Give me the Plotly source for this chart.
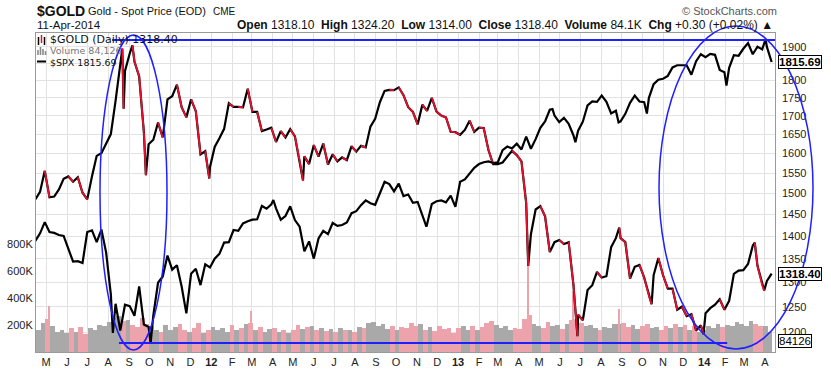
import math
import plotly.graph_objects as go
import pandas as pd

# ---------------- data ----------------
week_dates = pd.date_range("2011-04-15", "2014-04-11", freq="W-FRI")

gold_weekly = [
    # 2011
    1486, 1504, 1556,
    1491, 1493, 1510, 1536,
    1542, 1529, 1540, 1502,
    1486, 1542, 1594, 1601, 1628,
    1651, 1742, 1852, 1828,
    1880, 1856, 1812, 1656, 1624,
    1636, 1682, 1642, 1746,
    1755, 1788, 1724, 1696,
    1746, 1713, 1598, 1606, 1565,
    # 2012
    1617, 1640, 1665, 1735,
    1725, 1725, 1724, 1776,
    1711, 1711, 1659, 1663, 1668,
    1630, 1659, 1642, 1664,
    1645, 1582, 1593, 1573,
    1622, 1592, 1626, 1572, 1598,
    1580, 1590, 1583, 1619,
    1605, 1620, 1616, 1671, 1692,
    1738, 1770, 1773, 1772,
    1780, 1758, 1724, 1711,
    1677, 1731, 1714, 1750, 1712,
    1701, 1696, 1657, 1656,
    # 2013
    1649, 1662, 1687, 1657,
    1668, 1667, 1609, 1573,
    1573, 1577, 1592, 1607, 1596,
    1580, 1477, 1405, 1462,
    1470, 1446, 1365, 1387, 1392,
    1383, 1387, 1296, 1234,
    1223, 1284, 1294, 1322,
    1310, 1313, 1376, 1396, 1396,
    1387, 1308, 1333, 1337,
    1310, 1272, 1315, 1352,
    1315, 1287, 1287, 1244, 1250,
    1231, 1235, 1203, 1213,
    # 2014
    1237, 1247, 1254, 1265, 1244,
    1262, 1318, 1325, 1326,
    1339, 1379, 1335, 1294,
    1303, 1318.40,
]

gold_extra_dates = ["2011-08-22", "2011-08-24", "2011-09-06", "2011-09-26", "2011-12-29",
                    "2012-05-16", "2013-04-15", "2013-06-27", "2013-08-28", "2013-10-15",
                    "2013-12-31", "2014-03-17", "2014-03-31"]
gold_extra = [1895, 1720, 1905, 1545, 1537, 1532, 1335, 1192, 1420, 1255, 1196, 1386, 1283]

spx_weekly = [
    # 2011
    1319, 1337, 1364,
    1340, 1338, 1333, 1331,
    1300, 1271, 1272, 1268,
    1340, 1344, 1316, 1346, 1292,
    1199, 1179, 1124, 1177,
    1174, 1154, 1216, 1136, 1131,
    1155, 1224, 1238, 1285,
    1253, 1263, 1216, 1159,
    1244, 1255, 1219, 1265, 1258,
    # 2012
    1278, 1289, 1315, 1316,
    1345, 1343, 1361, 1366,
    1370, 1371, 1404, 1397, 1408,
    1398, 1370, 1379, 1403,
    1369, 1353, 1295, 1318,
    1278, 1325, 1343, 1335, 1362,
    1355, 1357, 1363, 1386,
    1391, 1406, 1418, 1411, 1407,
    1438, 1466, 1460, 1441,
    1461, 1429, 1433, 1412,
    1414, 1380, 1359, 1409, 1416,
    1418, 1413, 1430, 1402,
    # 2013
    1466, 1472, 1486, 1503,
    1513, 1518, 1520, 1516,
    1518, 1551, 1561, 1556, 1569,
    1553, 1589, 1555, 1582,
    1614, 1633, 1667, 1650, 1631,
    1643, 1626, 1593, 1606,
    1632, 1680, 1692, 1691,
    1710, 1691, 1656, 1664, 1633,
    1655, 1688, 1710, 1692,
    1690, 1703, 1745, 1759,
    1762, 1771, 1798, 1805, 1806,
    1805, 1775, 1818, 1841,
    # 2014
    1831, 1842, 1839, 1790, 1783,
    1797, 1838, 1836, 1859,
    1878, 1841, 1866, 1857,
    1865, 1815.69,
]

spx_extra_dates = ["2011-08-08", "2011-10-03", "2012-04-02", "2012-11-15", "2013-05-21",
                   "2013-06-24", "2013-08-27", "2013-10-08", "2014-02-03", "2014-04-02"]
spx_extra = [1119, 1099, 1419, 1353, 1669, 1573, 1630, 1656, 1741, 1891]

volume_k = [
    # 2011
    185, 160, 215,
    245, 190, 150, 165,
    140, 175, 150, 185,
    135, 180, 165, 200, 190,
    225, 255, 270, 230,
    240, 200, 185, 250, 210,
    195, 165, 150, 200,
    165, 185, 205, 160,
    150, 180, 215, 140, 160,
    # 2012
    185, 160, 175, 150,
    200, 165, 180, 210,
    215, 160, 185, 150, 170,
    180, 150, 165, 140,
    160, 200, 170, 185,
    195, 165, 180, 155, 170,
    145, 175, 160, 165,
    150, 185, 175, 215, 225,
    195, 210, 170, 190,
    165, 185, 175, 215,
    190, 205, 160, 185, 155,
    195, 170, 180, 140,
    # 2013
    175, 195, 165, 190,
    160, 185, 215, 230,
    200, 180, 195, 165, 180,
    170, 245, 275, 210,
    195, 175, 225, 190, 200,
    170, 205, 235, 245,
    215, 190, 200, 175,
    165, 185, 180, 205, 210,
    215, 185, 200, 170,
    190, 210, 175, 185,
    165, 195, 180, 205, 185,
    200, 165, 190, 150,
    # 2014
    165, 195, 180, 205, 185,
    200, 190, 225, 210,
    195, 230, 205, 190,
    195, 150,
]

vol_spike_dates = ["2011-05-05", "2012-02-29", "2013-04-15", "2013-06-20", "2013-08-27"]
vol_spike_k = [340, 300, 700, 450, 320]

month_ticks = pd.date_range("2011-05-01", "2014-04-01", freq="MS")
month_letters = ["J", "F", "M", "A", "M", "J", "J", "A", "S", "O", "N", "D"]
tick_text = [("<b>%s</b>" % str(d.year)[2:]) if d.month == 1 else month_letters[d.month - 1]
             for d in month_ticks]

gold_ticks = list(range(1200, 1901, 50))
vol_ticks = [200, 400, 600, 800]
vol_tick_text = ["200K", "400K", "600K", "800K"]

# ---------------- assemble ----------------
assert len(gold_weekly) == len(week_dates) == len(spx_weekly) == len(volume_k)

gold = pd.concat([pd.Series(gold_weekly, index=week_dates),
                  pd.Series(gold_extra, index=pd.to_datetime(gold_extra_dates))]).sort_index()
spx = pd.concat([pd.Series(spx_weekly, index=week_dates),
                 pd.Series(spx_extra, index=pd.to_datetime(spx_extra_dates))]).sort_index()

RED = "#e8102e"
BLACK = "#000000"
red_x, red_y = [], []
gx, gy = list(gold.index), list(gold.values)
for i in range(1, len(gy)):
    if gy[i] < gy[i - 1]:
        red_x += [gx[i - 1], gx[i], None]
        red_y += [gy[i - 1], gy[i], None]

GRAY_V = "#a9a9a9"
PINK_V = "#eda3ab"
vol_colors = [GRAY_V] + [GRAY_V if gold_weekly[i] >= gold_weekly[i - 1] else PINK_V
                         for i in range(1, len(gold_weekly))]

DAY = 86400000
fig = go.Figure()
fig.add_trace(go.Bar(x=week_dates, y=volume_k, marker=dict(color=vol_colors, line=dict(width=0)),
                     width=[7 * DAY] * len(volume_k), offset=-6 * DAY, yaxis="y",
                     hoverinfo="skip", showlegend=False))
fig.add_trace(go.Bar(x=pd.to_datetime(vol_spike_dates), y=vol_spike_k,
                     marker=dict(color=PINK_V, line=dict(width=0)),
                     width=[1.6 * DAY] * len(vol_spike_k), yaxis="y", showlegend=False))
fig.add_trace(go.Scatter(x=spx.index, y=spx.values, mode="lines", yaxis="y3",
                         line=dict(color=BLACK, width=2.2), showlegend=False))
fig.add_trace(go.Scatter(x=gx, y=gy, mode="lines", yaxis="y2",
                         line=dict(color=BLACK, width=2.2), showlegend=False))
fig.add_trace(go.Scatter(x=red_x, y=red_y, mode="lines", yaxis="y2",
                         line=dict(color=RED, width=1.8), showlegend=False))

# ---------------- layout ----------------
L, R, T, B = 36, 775, 33, 352
W, H = R - L, B - T


def px(x):
    return (x - L) / W


def py(y):
    return (B - y) / H


FONT = "Liberation Sans, Arial, sans-serif"
VFONT = "DejaVu Sans, Verdana, sans-serif"
BLUE = "#1f1fff"
GRID = "#e2e2e2"

gold_last = gold_weekly[-1]
spx_last = spx_weekly[-1]

shapes = [
    # blue highlight lines at gold high / low
    dict(type="line", xref="x", yref="y2", x0="2011-08-07", x1="2014-04-16", y0=1921, y1=1921,
         line=dict(color=BLUE, width=2)),
    dict(type="line", xref="x", yref="y2", x0="2011-08-17", x1="2014-02-04", y0=1179, y1=1179,
         line=dict(color=BLUE, width=2)),
    # blue ellipses
    dict(type="circle", xref="paper", yref="paper", x0=px(100), x1=px(167), y0=py(350), y1=py(35),
         line=dict(color=BLUE, width=1.5)),
    dict(type="circle", xref="paper", yref="paper", x0=px(659), x1=px(813), y0=py(349), y1=py(26),
         line=dict(color=BLUE, width=1.5)),
    # legend icons
    dict(type="line", xref="paper", yref="paper", x0=px(38.5), x1=px(38.5), y0=py(45), y1=py(37),
         line=dict(color=BLACK, width=1.5)),
    dict(type="line", xref="paper", yref="paper", x0=px(41.5), x1=px(41.5), y0=py(43), y1=py(35),
         line=dict(color=RED, width=1.5)),
    dict(type="line", xref="paper", yref="paper", x0=px(44.5), x1=px(44.5), y0=py(45), y1=py(37),
         line=dict(color=BLACK, width=1.5)),
    dict(type="line", xref="paper", yref="paper", x0=px(37), x1=px(46), y0=py(61.5), y1=py(61.5),
         line=dict(color=BLACK, width=2)),
]
for bx, top in [(38, 50), (40.5, 47), (43, 49), (45.5, 51)]:
    shapes.append(dict(type="rect", xref="paper", yref="paper", x0=px(bx - 0.8), x1=px(bx + 0.8),
                       y0=py(55), y1=py(top), fillcolor="#8a8a8a", line=dict(width=0)))

annotations = [
    dict(xref="paper", yref="paper", x=px(35), y=py(11), xanchor="left", yanchor="middle",
         text="<b>$GOLD</b>", font=dict(family=FONT, size=14, color="#111"), showarrow=False),
    dict(xref="paper", yref="paper", x=px(86), y=py(11), xanchor="left", yanchor="middle",
         text="Gold - Spot Price (EOD)", font=dict(family=FONT, size=11, color="#111"), showarrow=False),
    dict(xref="paper", yref="paper", x=px(211), y=py(12), xanchor="left", yanchor="middle",
         text="CME", font=dict(family=FONT, size=10, color="#111"), showarrow=False),
    dict(xref="paper", yref="paper", x=px(35), y=py(25), xanchor="left", yanchor="middle",
         text="11-Apr-2014", font=dict(family=FONT, size=11.5, color="#111"), showarrow=False),
    dict(xref="paper", yref="paper", x=px(779), y=py(11), xanchor="right", yanchor="middle",
         text="© StockCharts.com", font=dict(family=FONT, size=11, color="#555"), showarrow=False),
    dict(xref="paper", yref="paper", x=px(775), y=py(25), xanchor="right", yanchor="middle",
         text="<b>Open</b> 1318.10  <b>High</b> 1324.20  <b>Low</b> 1314.00  <b>Close</b> 1318.40  "
              "<b>Volume</b> 84.1K  <b>Chg</b> +0.30 (+0.02%) ▲",
         font=dict(family=FONT, size=12, color="#111"), showarrow=False),
    # in-chart legend
    dict(xref="paper", yref="paper", x=px(48), y=py(39.5), xanchor="left", yanchor="middle",
         text="$GOLD (Daily) 1318.40", font=dict(family=VFONT, size=11, color="#111"), showarrow=False),
    dict(xref="paper", yref="paper", x=px(48), y=py(51), xanchor="left", yanchor="middle",
         text="Volume 84,126", font=dict(family=VFONT, size=9.5, color="#777"), showarrow=False),
    dict(xref="paper", yref="paper", x=px(48), y=py(62), xanchor="left", yanchor="middle",
         text="$SPX 1815.69", font=dict(family=VFONT, size=9.5, color="#111"), showarrow=False),
    # right-edge value boxes (log axes take log10 positions)
    dict(xref="paper", yref="y3", x=px(778), y=math.log10(spx_last), xanchor="left", yanchor="middle",
         text="<b>1815.69</b>", font=dict(family=FONT, size=11.5, color="#000"), showarrow=False,
         bgcolor="white", bordercolor="#000", borderwidth=1, borderpad=0),
    dict(xref="paper", yref="y2", x=px(778), y=math.log10(gold_last), xanchor="left", yanchor="middle",
         text="<b>1318.40</b>", font=dict(family=FONT, size=11.5, color="#000"), showarrow=False,
         bgcolor="white", bordercolor="#000", borderwidth=1, borderpad=0),
    dict(xref="paper", yref="y", x=px(778), y=84.126, xanchor="left", yanchor="middle",
         text="84126", font=dict(family=FONT, size=11.5, color="#000"), showarrow=False,
         bgcolor="white", bordercolor="#000", borderwidth=1, borderpad=0),
]

fig.update_layout(
    width=831, height=376,
    margin=dict(l=L, r=831 - R, t=T, b=376 - B, autoexpand=False),
    paper_bgcolor="white", plot_bgcolor="white",
    showlegend=False, bargap=0,
    xaxis=dict(type="date", range=["2011-04-16", "2014-04-16"], tickvals=list(month_ticks),
               ticktext=tick_text, showgrid=True, gridcolor=GRID, gridwidth=1, automargin=False,
               showline=True, linecolor="#9a9a9a", mirror=True, ticks="", zeroline=False,
               tickfont=dict(family=FONT, size=11, color="#222")),
    yaxis=dict(range=[0, 2360], tickvals=vol_ticks, ticktext=vol_tick_text, side="left",
               showgrid=False, showline=True, linecolor="#9a9a9a", mirror=True, zeroline=False,
               ticks="", automargin=False, tickfont=dict(family=FONT, size=11, color="#222")),
    yaxis2=dict(overlaying="y", side="right", type="log", range=[3.0652, 3.2885],
                tickvals=gold_ticks, ticktext=[str(t) for t in gold_ticks], showgrid=True,
                gridcolor=GRID, zeroline=False, ticks="", ticklabelstandoff=6, automargin=False,
                tickfont=dict(family=FONT, size=11, color="#222")),
    yaxis3=dict(overlaying="y", type="log", range=[3.0341, 3.2815], visible=False, automargin=False),
    shapes=shapes,
    annotations=annotations,
)

fig.write_html("out.html", config={"displayModeBar": False},
               post_script="document.body.style.margin='0px';document.body.style.padding='0px';")
